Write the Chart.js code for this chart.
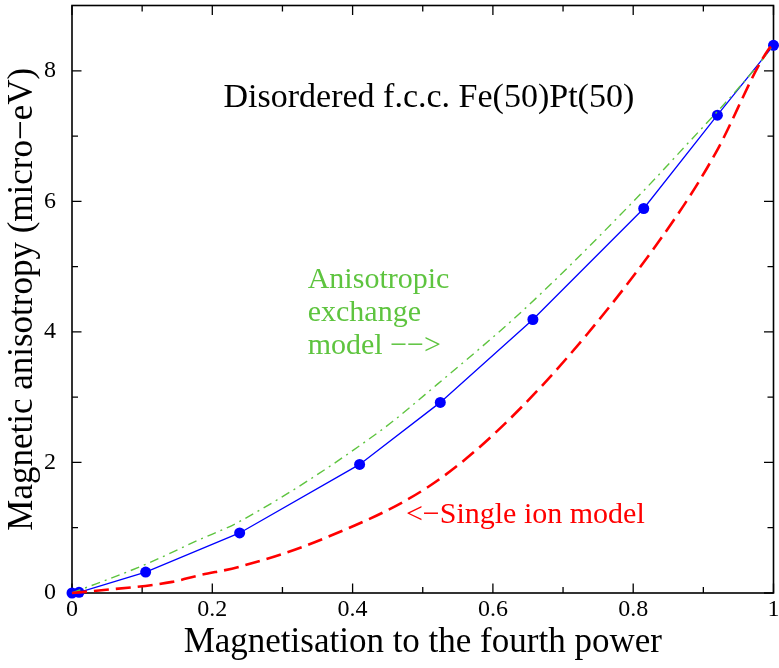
<!DOCTYPE html>
<html><head><meta charset="utf-8">
<script src="https://cdn.jsdelivr.net/npm/chart.js@4"></script>
<style>html,body{margin:0;padding:0;background:#fff;overflow:hidden}</style>
</head><body>
<canvas id="c" width="779" height="668"></canvas>
<script>
// Calculated points (blue)
const calcX = [0, 0.01, 0.105, 0.239, 0.41, 0.525, 0.657, 0.815, 0.92, 1.0];
const calcY = [0, 0.01, 0.32, 0.92, 1.97, 2.92, 4.19, 5.89, 7.32, 8.39];
// Anisotropic exchange model (green dash-dot)
const anisoX = [0, 0.103, 0.18, 0.238, 0.439, 0.521, 0.646, 0.795, 0.866, 0.979, 1.0];
const anisoY = [0, 0.43, 0.81, 1.09, 2.48, 3.2, 4.36, 5.94, 6.75, 8.1, 8.4];
// Single ion model (red dashed)
const singleX = [0, 0.03, 0.143, 0.181, 0.238, 0.358, 0.507, 0.606, 0.734, 0.866, 0.918, 0.993, 1.0];
const singleY = [0, 0.03, 0.17, 0.27, 0.40, 0.83, 1.62, 2.48, 3.96, 5.84, 6.75, 8.33, 8.4];

const xMajorTicks = [0, 0.2, 0.4, 0.6, 0.8, 1];
const xTickLabels = ['0', '0.2', '0.4', '0.6', '0.8', '1'];
const xMinorTicks = [0.1, 0.3, 0.5, 0.7, 0.9];
const yMajorTicks = [0, 2, 4, 6, 8];
const yTickLabels = ['0', '2', '4', '6', '8'];
const yMinorTicks = [1, 3, 5, 7];

const titleText = 'Disordered f.c.c. Fe(50)Pt(50)';
const greenLabel = ['Anisotropic', 'exchange', 'model \u2212\u2212>'];
const redLabel = '<\u2212Single ion model';
const xTitle = 'Magnetisation to the fourth power';
const yTitle = 'Magnetic anisotropy (micro\u2212eV)';

const GREEN = '#5ec43f';
const FONT = "'Liberation Serif', 'Times New Roman', serif";

const toXY = (xs, ys) => xs.map((x, i) => ({x: x, y: ys[i]}));

const framePlugin = {
  id: 'frame',
  beforeDatasetsDraw(chart) {
    const {ctx, chartArea: a, scales: {x, y}} = chart;
    ctx.save();
    ctx.strokeStyle = '#000';
    ctx.lineWidth = 1.6;
    ctx.strokeRect(a.left, a.top, a.right - a.left, a.bottom - a.top);
    ctx.lineWidth = 1.3;
    const tick = (len, list, horiz) => {
      list.forEach(v => {
        ctx.beginPath();
        if (horiz) {
          const p = x.getPixelForValue(v);
          ctx.moveTo(p, a.bottom); ctx.lineTo(p, a.bottom - len);
          ctx.moveTo(p, a.top); ctx.lineTo(p, a.top + len);
        } else {
          const p = y.getPixelForValue(v);
          ctx.moveTo(a.left, p); ctx.lineTo(a.left + len, p);
          ctx.moveTo(a.right, p); ctx.lineTo(a.right - len, p);
        }
        ctx.stroke();
      });
    };
    tick(9.5, xMajorTicks, true);
    tick(6, xMinorTicks, true);
    tick(9.5, yMajorTicks, false);
    tick(6, yMinorTicks, false);
    ctx.restore();
  },
  afterDraw(chart) {
    const {ctx, scales: {x, y}} = chart;
    ctx.save();
    ctx.textBaseline = 'alphabetic';
    ctx.textAlign = 'left';
    ctx.font = '34px ' + FONT;
    ctx.fillStyle = '#000';
    ctx.fillText(titleText, x.getPixelForValue(0.216), y.getPixelForValue(7.44));
    ctx.font = '30px ' + FONT;
    ctx.fillStyle = GREEN;
    const gx = x.getPixelForValue(0.336);
    const gy = y.getPixelForValue(4.675);
    greenLabel.forEach((t, i) => ctx.fillText(t, gx, gy + i * 33));
    ctx.fillStyle = '#ff0000';
    ctx.fillText(redLabel, x.getPixelForValue(0.476), y.getPixelForValue(1.067));
    ctx.restore();
  }
};

new Chart(document.getElementById('c'), {
  type: 'scatter',
  data: {
    datasets: [
      {
        label: 'Single ion model',
        data: toXY(singleX, singleY),
        showLine: true,
        borderColor: '#ff0000',
        borderWidth: 2.6,
        borderDash: [15, 7],
        pointRadius: 0,
        cubicInterpolationMode: 'monotone',
        clip: false
      },
      {
        label: 'Anisotropic exchange model',
        data: toXY(anisoX, anisoY),
        showLine: true,
        borderColor: GREEN,
        borderWidth: 1.4,
        borderDash: [9, 5, 2, 5],
        pointRadius: 0,
        cubicInterpolationMode: 'monotone',
        clip: false
      },
      {
        label: 'Calculated',
        data: toXY(calcX, calcY),
        showLine: true,
        borderColor: '#0000ff',
        borderWidth: 1.3,
        backgroundColor: '#0000ff',
        pointBackgroundColor: '#0000ff',
        pointBorderColor: '#0000ff',
        pointRadius: 5.5,
        pointBorderWidth: 0,
        tension: 0,
        clip: false
      }
    ]
  },
  options: {
    responsive: false,
    animation: false,
    events: [],
    layout: {padding: {top: 4, right: 1, left: 0, bottom: 0}},
    plugins: {legend: {display: false}, tooltip: {enabled: false}},
    scales: {
      x: {
        type: 'linear', min: 0, max: 1,
        afterBuildTicks: s => { s.ticks = xMajorTicks.map(v => ({value: v})); },
        afterFit: s => { s.height = 75; s.paddingLeft = 0; s.paddingRight = 0; },
        grid: {display: false, drawTicks: false},
        border: {display: false},
        ticks: {
          callback: (v, i) => xTickLabels[i],
          color: '#000', padding: 2, maxRotation: 0, autoSkip: false,
          font: {family: FONT, size: 24}
        },
        title: {display: true, text: xTitle, color: '#000',
          font: {family: FONT, size: 35}, padding: {top: 0, bottom: 4}}
      },
      y: {
        type: 'linear', min: 0, max: 9,
        afterBuildTicks: s => { s.ticks = yMajorTicks.map(v => ({value: v})); },
        afterFit: s => { s.width = 72; s.paddingTop = 0; s.paddingBottom = 0; },
        grid: {display: false, drawTicks: false},
        border: {display: false},
        ticks: {
          callback: (v, i) => yTickLabels[i],
          color: '#000', padding: 16, autoSkip: false,
          font: {family: FONT, size: 24}
        },
        title: {display: true, text: yTitle, color: '#000',
          font: {family: FONT, size: 35}, padding: {top: 2, bottom: 0}}
      }
    }
  },
  plugins: [framePlugin]
});
</script>
</body></html>
